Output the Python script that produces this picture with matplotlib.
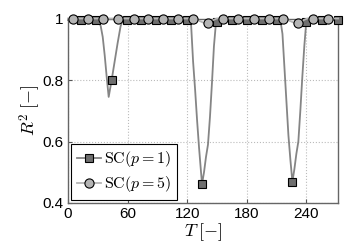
import matplotlib
matplotlib.use("Agg")
import matplotlib.pyplot as plt

# R^2 versus T
T_p1 = [0, 13, 28, 31, 33, 35, 37, 39, 41, 44, 47, 50, 53, 55, 59, 74, 89, 104, 120,
        122, 124, 126, 128, 130, 132, 134, 135, 137, 139, 141, 143, 145, 147, 149, 150,
        165, 180, 195, 211, 214, 216, 218, 220, 222, 224, 226, 228, 230, 232, 234, 236,
        238, 240, 256, 272]
R2_p1 = [0.995, 0.995, 0.995, 0.993, 0.975, 0.94, 0.88, 0.81, 0.745, 0.80, 0.86, 0.92,
         0.975, 0.993, 0.995, 0.995, 0.995, 0.995, 0.995,
         0.995, 0.98, 0.86, 0.77, 0.67, 0.58, 0.50, 0.462, 0.50, 0.55, 0.59, 0.68, 0.79,
         0.91, 0.985, 0.99,
         0.995, 0.995, 0.995, 0.995, 0.993, 0.95, 0.84, 0.73, 0.62, 0.54, 0.469, 0.51,
         0.56, 0.60, 0.70, 0.81, 0.91, 0.99, 0.995, 0.995]
marks_p1 = [13, 28, 44, 59, 74, 89, 104, 120, 135, 150, 165, 180, 195, 211, 226, 240,
            256, 272]

T_p5 = [0, 5, 20, 35, 50, 66, 81, 96, 111, 126, 128, 132, 136, 139, 141, 144, 147, 150,
        156, 171, 187, 202, 217, 219, 223, 227, 230, 232, 235, 238, 241, 247, 262, 272]
R2_p5 = [1.0, 1.0, 1.0, 1.0, 1.0, 1.0, 1.0, 1.0, 1.0, 1.0, 0.998, 0.993, 0.987, 0.984,
         0.985, 0.99, 0.996, 1.0,
         1.0, 1.0, 1.0, 1.0, 1.0, 0.998, 0.993, 0.987, 0.984, 0.984, 0.99, 0.996, 1.0,
         1.0, 1.0, 1.0]
marks_p5 = [5, 20, 35, 50, 66, 81, 96, 111, 126, 141, 156, 171, 187, 202, 217, 232, 247,
            262]

x_ticks = [0, 60, 120, 180, 240]
y_ticks = [0.4, 0.6, 0.8, 1.0]
y_ticklabels = ['0.4', '0.6', '0.8', '1']

plt.rcParams['font.family'] = ['Liberation Sans', 'DejaVu Sans']
plt.rcParams['mathtext.fontset'] = 'cm'

fig = plt.figure(figsize=(3.54, 2.5), dpi=100)
ax = fig.add_axes([0.192, 0.188, 0.763, 0.738])

ax.plot(T_p1, R2_p1, '-', color='#858585', linewidth=1.3,
        marker='s', markersize=5.2, markerfacecolor='#6e6e6e', markeredgecolor='black',
        markeredgewidth=0.8, markevery=[T_p1.index(t) for t in marks_p1],
        clip_on=False, label=r'$\mathrm{SC}(p=1)$', zorder=3)
ax.plot(T_p5, R2_p5, '-', color='#b5b5b5', linewidth=1.3,
        marker='o', markersize=6.6, markerfacecolor='#b4b4b4', markeredgecolor='black',
        markeredgewidth=0.8, markevery=[T_p5.index(t) for t in marks_p5],
        clip_on=False, label=r'$\mathrm{SC}(p=5)$', zorder=4)

ax.set_xlim(0, 272)
ax.set_ylim(0.4, 1.0)
ax.set_xticks(x_ticks)
ax.set_yticks(y_ticks)
ax.set_yticklabels(y_ticklabels)
ax.tick_params(direction='in', length=3, labelsize=11, color='#555555', pad=3)
ax.grid(True, linestyle=':', color='#bbbbbb', linewidth=0.8)
for s in ax.spines.values():
    s.set_color('#666666')
    s.set_linewidth(1.0)

ax.set_xlabel(r'$T\;[-]$', fontsize=13, labelpad=0)
ax.set_ylabel(r'$R^2\;[-]$', fontsize=13, labelpad=0)

leg = ax.legend(loc='lower left', fontsize=11.5, fancybox=False, framealpha=1,
                edgecolor='black', handlelength=1.5, handletextpad=0.2,
                borderpad=0.35, labelspacing=0.3, borderaxespad=0.2)
leg.get_frame().set_linewidth(0.8)

fig.savefig('out.png', dpi=100)
